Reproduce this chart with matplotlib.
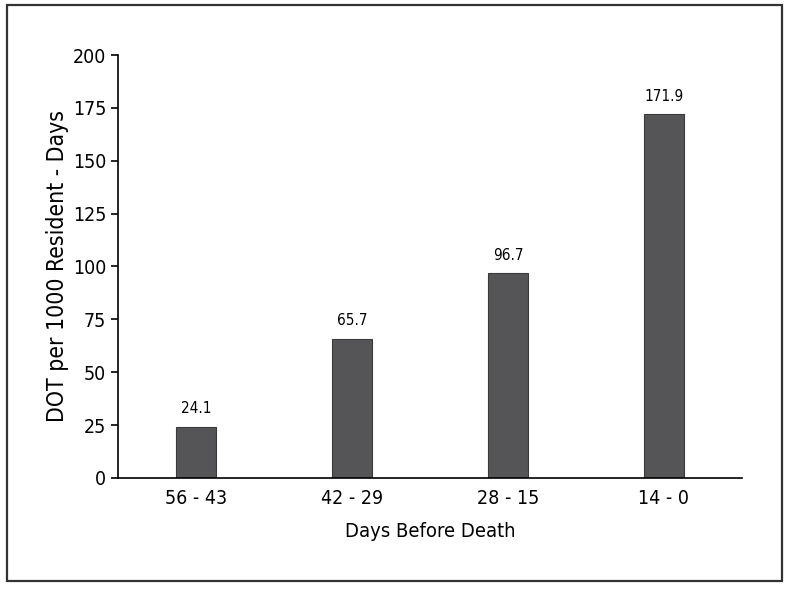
import matplotlib
matplotlib.use("Agg")
import matplotlib.pyplot as plt
from matplotlib.patches import Rectangle

plt.rcParams['font.family'] = ['DejaVu Sans']
plt.rcParams['font.stretch'] = 'condensed'

periods = ['56 - 43', '42 - 29', '28 - 15', '14 - 0']
dot_rates = [24.1, 65.7, 96.7, 171.9]
yticks = [0, 25, 50, 75, 100, 125, 150, 175, 200]

fig = plt.figure(figsize=(7.89, 5.89), dpi=100)
fig.patches.append(Rectangle((0.009, 0.014), 0.982, 0.977, transform=fig.transFigure,
                             fill=False, edgecolor='#333333', linewidth=1.6))

ax = fig.add_axes([0.1496, 0.1885, 0.7908, 0.7181])
x = range(len(periods))
bars = ax.bar(x, dot_rates, width=0.26, color='#555558', edgecolor='#3a3a3a', linewidth=0.8)
for b, v in zip(bars, dot_rates):
    ax.text(b.get_x() + b.get_width() / 2, v + 5, f'{v:.1f}', ha='center', va='bottom',
            fontsize=11)

ax.set_xlim(-0.5, 3.5)
ax.set_ylim(0, 200)
ax.set_yticks(yticks)
ax.set_xticks(list(x))
ax.set_xticklabels(periods)
ax.tick_params(axis='both', labelsize=14, length=5, width=1.2, direction='out')
ax.tick_params(axis='x', length=0, pad=8)
for s in ['top', 'right']:
    ax.spines[s].set_visible(False)
for s in ['left', 'bottom']:
    ax.spines[s].set_linewidth(1.2)
ax.set_xlabel('Days Before Death', fontsize=14.5, labelpad=10)
ax.set_ylabel('DOT per 1000 Resident - Days', fontsize=16.5, labelpad=3)

fig.savefig('out.png', dpi=100)
